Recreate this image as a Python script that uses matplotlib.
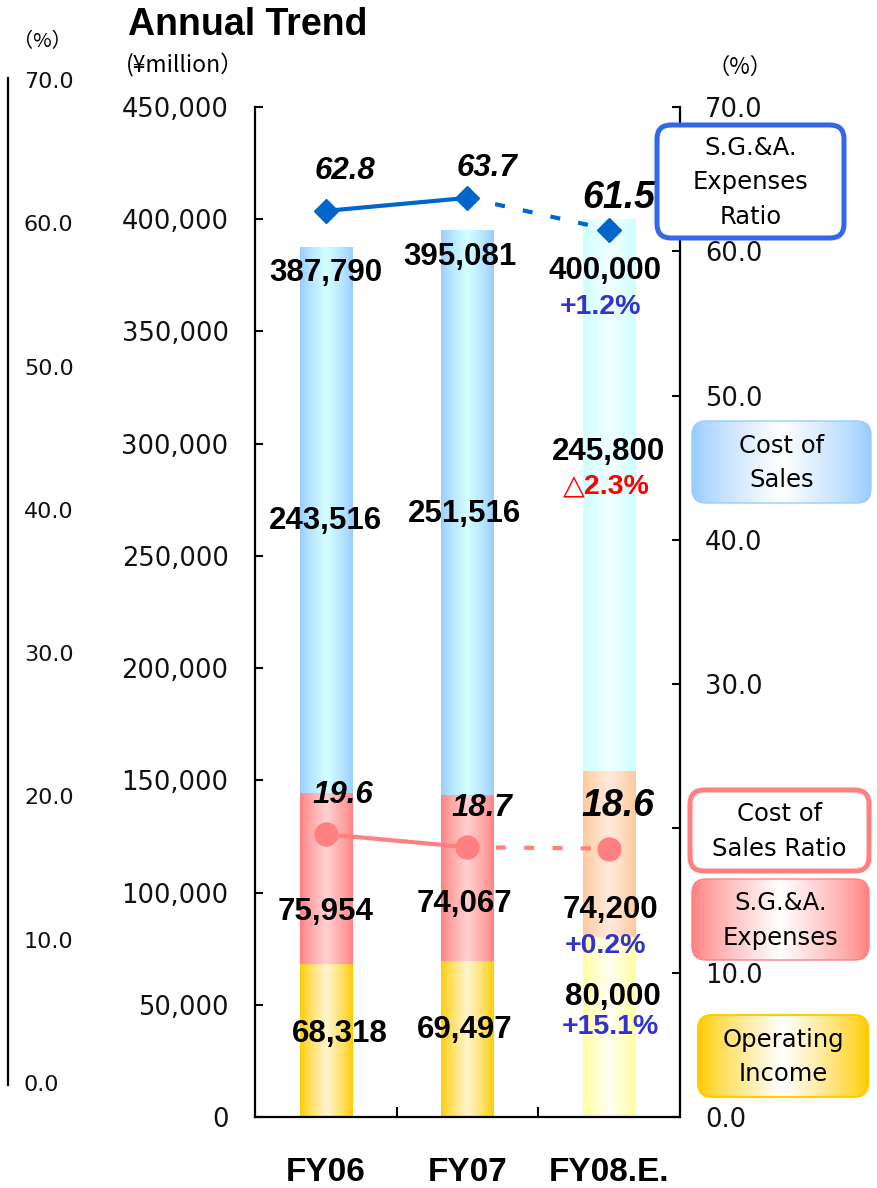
import numpy as np
import matplotlib
matplotlib.use("Agg")
import matplotlib.pyplot as plt
from matplotlib.patches import FancyBboxPatch
import matplotlib.colors as mcolors

# ---------------- data ----------------
categories = ["FY06", "FY07", "FY08.E."]
operating_income = [68318, 69497, 80000]
sga_expenses = [75954, 74067, 74200]
cost_of_sales = [243516, 251516, 245800]
net_sales = [387790, 395081, 400000]
ratio_top = [62.8, 63.7, 61.5]      # legend: "S.G.&A. Expenses Ratio"
ratio_bottom = [19.6, 18.7, 18.6]   # legend: "Cost of Sales Ratio"
change_total = "+1.2%"
change_cos = "\u25b32.3%"
change_sga = "+0.2%"
change_oi = "+15.1%"
left_ticks = list(range(0, 450001, 50000))
right_ticks = [0, 10, 20, 30, 40, 50, 60, 70]
# the 20.0 label on the right axis is hidden behind a legend box in the original
right_hidden = [20]

# ---------------- style ----------------
W, H = 878, 1188
DPI = 100
BOLD = ["Liberation Sans", "DejaVu Sans"]
fig = plt.figure(figsize=(W / DPI, H / DPI), dpi=DPI)


def fx(px):
    return px / W


def fy(py):
    return 1 - py / H


ax = fig.add_axes([fx(255), fy(1117), fx(680) - fx(255), fy(107) - fy(1117)])
ax2 = ax.twinx()

x = np.arange(len(categories))
bw = 0.37

edge_cols = {
    "oi": ["#FFCC00", "#FFCC00", "#FFFF99"],
    "sga": ["#FF8080", "#FF8080", "#FFC898"],
    "cos": ["#99CCFF", "#99CCFF", "#CCFFFF"],
}
center_cols = {
    "oi": ["#FFF4D0", "#FFF4D0", "#FFFFF4"],
    "sga": ["#FFD0D0", "#FFD0D0", "#FFEADC"],
    "cos": ["#D4FFFF", "#D4FFFF", "#F2FFFF"],
}


def grad_img(edge, center, n=80):
    t = np.linspace(0, 1, n)
    w = (1 - np.abs(2 * t - 1)) ** 0.8
    e = np.array(mcolors.to_rgb(edge))
    c = np.array(mcolors.to_rgb(center))
    return (e[None, :] * (1 - w[:, None]) + c[None, :] * w[:, None])[None, :, :]


bottom_sga = np.array(operating_income)
bottom_cos = bottom_sga + np.array(sga_expenses)

segs = [
    ("oi", operating_income, np.zeros(3)),
    ("sga", sga_expenses, bottom_sga),
    ("cos", cost_of_sales, bottom_cos),
]
for key, vals, bot in segs:
    bars = ax.bar(x, vals, bw, bottom=bot, color="none", edgecolor="none", zorder=2)
    for i, p in enumerate(bars.patches):
        x0, y0, w_, h_ = p.get_x(), p.get_y(), p.get_width(), p.get_height()
        im = ax.imshow(grad_img(edge_cols[key][i], center_cols[key][i]),
                       extent=[x0, x0 + w_, y0, y0 + h_], aspect="auto",
                       interpolation="bilinear", zorder=2)
        im.set_clip_path(p)

ax.set_xlim(-0.5, 2.5)
ax.set_ylim(0, 450000)
ax2.set_ylim(0, 70)

# axes styling
for s in ["top", "right"]:
    ax.spines[s].set_visible(False)
for s in ["top", "left", "bottom"]:
    ax2.spines[s].set_visible(False)
for s in ["left", "bottom"]:
    ax.spines[s].set_linewidth(1.6)
ax2.spines["right"].set_linewidth(1.6)

ax.set_yticks(left_ticks)
ax.set_yticklabels([f"{v:,}" for v in left_ticks])
ax.tick_params(axis="y", direction="in", length=6, width=1.5, pad=19,
               labelsize=18.5, labelcolor="#111111")
ax2.set_yticks(right_ticks)
ax2.set_yticklabels(["" if v in right_hidden else f"{v:.1f}" for v in right_ticks])
ax2.tick_params(axis="y", direction="in", length=6, width=1.5, pad=18,
                labelsize=18.5, labelcolor="#111111")

ax.set_xticks(x)
ax.set_xticklabels(categories, fontsize=24, fontweight="bold", family=BOLD)
ax.tick_params(axis="x", length=0, pad=29)
ax.set_xticks([0.5, 1.5], minor=True)
ax.tick_params(axis="x", which="minor", direction="in", length=7, width=1.5)

# ---------------- ratio lines ----------------
blue = "#0066CC"
pink = "#FF8080"
ax2.plot(x[:2], ratio_top[:2], color=blue, lw=3, zorder=4)
ax2.plot(x[1:], ratio_top[1:], color=blue, lw=3, dashes=(2.4, 4.4), zorder=4)
ax2.plot(x, ratio_top, ls="none", marker="D", ms=12.5, color=blue, zorder=5)
ax2.plot(x[:2], ratio_bottom[:2], color=pink, lw=3, zorder=4)
ax2.plot(x[1:], ratio_bottom[1:], color=pink, lw=3, dashes=(2.4, 4.4), zorder=4)
ax2.plot(x, ratio_bottom, ls="none", marker="o", ms=16.5, color=pink, zorder=5)

top_offsets = [(19, 40, 22.5), (19, 30, 22.5), (10, 32, 27)]
bot_offsets = [(17, 39, 22.5), (14, 39, 22.5), (9, 43, 27)]
for i in range(3):
    dx, dy, fs = top_offsets[i]
    ax2.annotate(f"{ratio_top[i]:.1f}", (x[i], ratio_top[i]), xytext=(dx, dy),
                 textcoords="offset pixels", ha="center", va="center",
                 fontsize=fs, fontweight="bold", fontstyle="italic", family=BOLD, zorder=6)
    dx, dy, fs = bot_offsets[i]
    ax2.annotate(f"{ratio_bottom[i]:.1f}", (x[i], ratio_bottom[i]), xytext=(dx, dy),
                 textcoords="offset pixels", ha="center", va="center",
                 fontsize=fs, fontweight="bold", fontstyle="italic", family=BOLD, zorder=6)

# ---------------- value labels ----------------
chg_blue = "#3333CC"


def lab(txt, i, yv, dx, dy, color="black", size=22.5):
    ax.annotate(txt, (x[i], yv), xytext=(dx, dy), textcoords="offset pixels",
                ha="center", va="center", fontsize=size, fontweight="bold",
                color=color, family=BOLD, zorder=7)


tot_off = [(0, -26), (-8, -27), (-4, -52)]
cos_off = [(0, -1), (-3, -1), (-1, 43)]
sga_off = [(0, -34), (-3, -26), (1, -56)]
oi_off = [(14, 6), (-3, 9), (4, 30)]
for i in range(3):
    lab(f"{net_sales[i]:,}", i, net_sales[i], *tot_off[i])
    lab(f"{cost_of_sales[i]:,}", i, bottom_cos[i] + cost_of_sales[i] / 2, *cos_off[i])
    lab(f"{sga_expenses[i]:,}", i, bottom_sga[i] + sga_expenses[i] / 2, *sga_off[i])
    lab(f"{operating_income[i]:,}", i, operating_income[i] / 2, *oi_off[i])

lab(change_total, 2, net_sales[2], -9, -88, chg_blue, 20.5)
lab(change_cos, 2, bottom_cos[2] + cost_of_sales[2] / 2, -3, 9, "#FF0000", 20.5)
lab(change_sga, 2, bottom_sga[2] + sga_expenses[2] / 2, -4, -92, chg_blue, 20.5)
lab(change_oi, 2, operating_income[2] / 2, 1, 0, chg_blue, 20.5)

# ---------------- ghost left axis ----------------
ax3 = fig.add_axes([fx(8), fy(1083), 0.0008, fy(80) - fy(1083)])
ax3.set_ylim(0, 70)
ax3.set_xticks([])
ax3.patch.set_visible(False)
for s in ["top", "bottom", "right"]:
    ax3.spines[s].set_visible(False)
ax3.spines["left"].set_linewidth(1.6)
ax3.spines["left"].set_bounds(-0.15, 70.15)
ax3.yaxis.tick_right()
ax3.set_yticks(right_ticks)
ax3.set_yticklabels([f"{v:.1f}" for v in right_ticks])
ax3.tick_params(axis="y", length=0, pad=11, labelsize=16, labelcolor="#111111")

# ---------------- overlay: titles & legend boxes ----------------
ov = fig.add_axes([0, 0, 1, 1], zorder=10)
ov.set_xlim(0, W)
ov.set_ylim(H, 0)
ov.axis("off")

CJK = ["Noto Sans CJK JP", "DejaVu Sans"]
ov.text(128, 25, "Annual Trend", fontsize=27, fontweight="bold", family=BOLD,
        ha="left", va="center")
ov.text(126, 65, "(¥million\uff09", fontsize=16.5, family=CJK, ha="left", va="center")
ov.text(42, 42, "\uff08%\uff09", fontsize=14.5, family=CJK, ha="center", va="center")
ov.text(740, 67, "\uff08%\uff09", fontsize=16, family=CJK, ha="center", va="center")

boxes = [
    # (x0, y0, x1, y1, text, edge, gradient, edge lw)
    (657, 125, 844, 238, "S.G.&A.\nExpenses\nRatio", "#3366EE", None, 3.6),
    (692, 421, 871, 503, "Cost of\nSales", "#99CCFF", "#99CCFF", 1.0),
    (690, 790, 869, 871, "Cost of\nSales Ratio", "#FF8080", None, 3.6),
    (692, 879, 869, 960, "S.G.&A.\nExpenses", "#FF8080", "#FF8080", 1.0),
    (698, 1015, 868, 1097, "Operating\nIncome", "#FFCC00", "#FFCC00", 1.5),
]
r = 14
for x0, y0, x1, y1, txt, ec, gc, lw in boxes:
    patch = FancyBboxPatch((x0 + r, y0 + r), (x1 - x0) - 2 * r, (y1 - y0) - 2 * r,
                           boxstyle=f"round,pad={r}", fc="white" if gc is None else "none",
                           ec=ec, lw=lw, zorder=1)
    ov.add_patch(patch)
    if gc is not None:
        im = ov.imshow(grad_img(gc, "#FFFFFF"), extent=[x0, x1, y1, y0], aspect="auto",
                       interpolation="bilinear", zorder=0.5)
        im.set_clip_path(patch)
    ov.text((x0 + x1) / 2, (y0 + y1) / 2 + 1, txt, ha="center", va="center",
            fontsize=17.5, linespacing=1.55, color="black", zorder=3)
ov.set_xlim(0, W)
ov.set_ylim(H, 0)

fig.savefig("out.png", dpi=DPI)
